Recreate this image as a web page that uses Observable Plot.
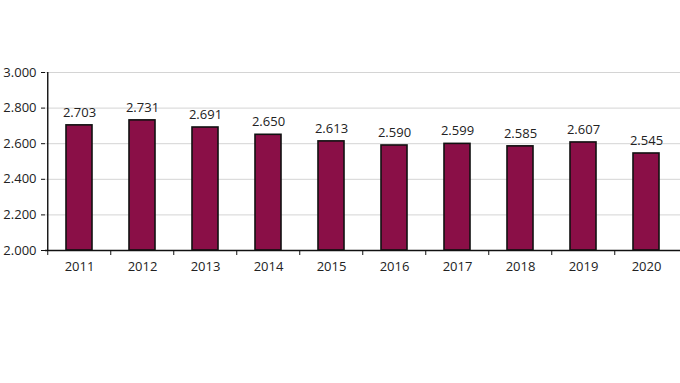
<!DOCTYPE html>
<html>
<head>
<meta charset="utf-8">
<script src="https://cdn.jsdelivr.net/npm/d3@7"></script>
<script src="https://cdn.jsdelivr.net/npm/@observablehq/plot@0.6"></script>
<style>
  html, body { margin: 0; padding: 0; background: #fff; }
  #chart svg { display: block; }
</style>
</head>
<body>
<div id="chart"></div>
<script>
const years = ["2011","2012","2013","2014","2015","2016","2017","2018","2019","2020"];
const values = [2703, 2731, 2691, 2650, 2613, 2590, 2599, 2585, 2607, 2545];
const yTicks = [2000, 2200, 2400, 2600, 2800, 3000];

const data = years.map((y, i) => ({year: y, value: values[i]}));
const loc = d3.formatLocale({decimal: ",", thousands: ".", grouping: [3], currency: ["", "€"]});
const fmt = loc.format(",d");

const W = 680, H = 383, ML = 45, MR = 0, MT = 72, MB = 133;
const half = (W - ML - MR) / years.length / 2;
const font = "'Open Sans', 'Noto Sans', sans-serif";

const chart = Plot.plot({
  width: W, height: H,
  marginLeft: ML, marginRight: MR, marginTop: MT, marginBottom: MB,
  style: {fontFamily: font, fontSize: "13px", color: "#222", background: "#fff"},
  x: {domain: years, paddingInner: 0.59, paddingOuter: 0.295},
  y: {domain: [2000, 3000]},
  marks: [
    Plot.gridY(yTicks, {stroke: "#d4d4d4", strokeOpacity: 1}),
    Plot.barY(data, {x: "year", y1: 2000, y2: "value", fill: "#8a0f47", stroke: "#111", strokeWidth: 1.6}),
    Plot.text(data, {x: "year", y: "value", text: d => fmt(d.value), dy: -13, fontSize: 13, fill: "#222"}),
    Plot.axisY({ticks: yTicks, tickFormat: fmt, tickSize: 4, tickPadding: 5, fontSize: 13, stroke: "#111", fill: "#222", label: null}),
    Plot.axisX({tickSize: 5, tickFormat: () => "", dx: -half, stroke: "#111", label: null}),
    Plot.axisX({tickSize: 0, tickPadding: 11, fontSize: 13, fill: "#222", label: null}),
    Plot.ruleY([2000], {stroke: "#111", strokeWidth: 1.4}),
    Plot.ruleX([years[0]], {dx: -half, y1: 2000, y2: 3000, stroke: "#111", strokeWidth: 1.4})
  ]
});
document.getElementById("chart").appendChild(chart);
</script>
</body>
</html>
